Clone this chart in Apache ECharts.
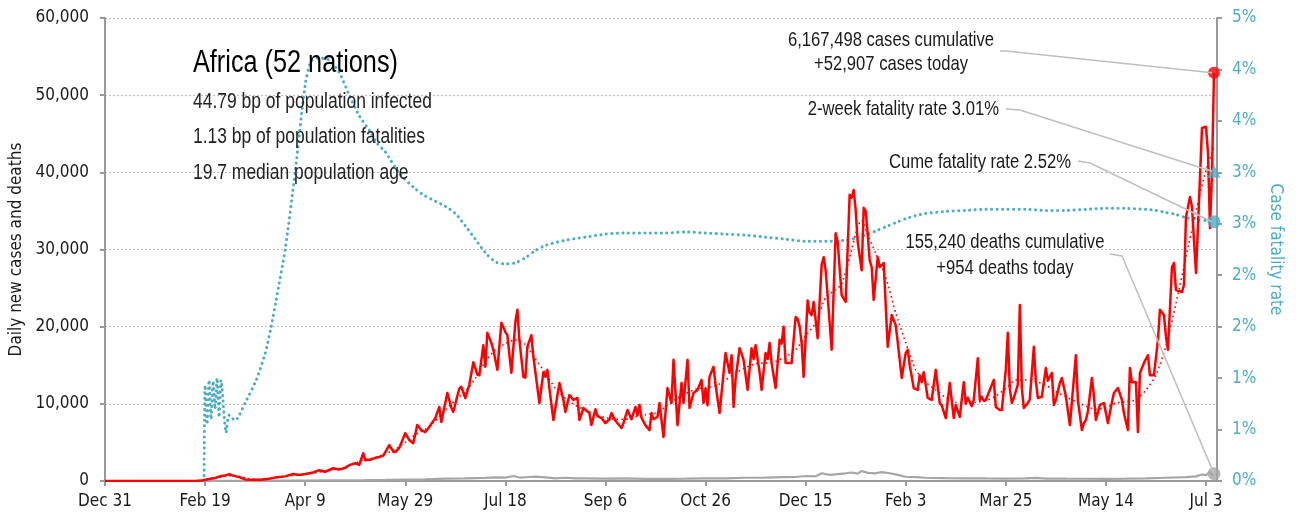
<!DOCTYPE html>
<html>
<head>
<meta charset="utf-8">
<title>Africa (52 nations) – daily new cases and deaths</title>
<script src="https://cdn.jsdelivr.net/npm/echarts@6/dist/echarts.min.js"></script>
<style>
  html, body { margin: 0; padding: 0; background: #ffffff; }
  #chart { width: 1296px; height: 520px; }
</style>
</head>
<body>
<div id="chart"></div>
<script>
// Day offsets are counted from Dec 31, 2019 (day 0).
const dateTicks = ['Dec 31', 'Feb 19', 'Apr 9', 'May 29', 'Jul 18', 'Sep 6', 'Oct 26', 'Dec 15', 'Feb 3', 'Mar 25', 'May 14', 'Jul 3'];
const fatalityTicks = ['0%', '1%', '1%', '2%', '2%', '3%', '3%', '4%', '4%', '5%'];

// Daily new cases: [day, cases]
const newCases = [
  [0, 0], [45, 0], [49, 100], [52, 250], [55, 400], [58, 650], [60, 700], [62, 900], [64, 700], [67, 500],
  [70, 200], [74, 150], [78, 150], [82, 300], [86, 500], [90, 600], [94, 900], [97, 780], [100, 900], [104, 1100],
  [107, 1400], [110, 1200], [114, 1650], [117, 1500], [120, 1700], [122, 2050], [125, 2300], [127, 2100], [129, 3600], [130, 2700],
  [133, 2800], [135, 3000], [137, 3100], [139, 3300], [142, 4650], [144, 3800], [145, 3750], [147, 4300], [150, 6200], [152, 5300],
  [154, 4900], [156, 7250], [158, 6600], [160, 6350], [162, 7000], [165, 8150], [167, 9600], [168, 7650], [171, 11400], [173, 9500],
  [174, 8950], [177, 12000], [178, 12200], [180, 10750], [182, 12500], [184, 15400], [186, 13800], [187, 13700], [189, 17600], [190, 14800],
  [191, 19200], [193, 17900], [194, 17000], [196, 14400], [198, 20500], [200, 19300], [201, 18900], [203, 14000], [205, 20600], [206, 22200],
  [207, 18300], [209, 13500], [210, 13400], [211, 17400], [213, 18900], [214, 16100], [217, 10100], [219, 14100], [220, 13500], [221, 14400],
  [222, 12000], [224, 7900], [227, 12700], [229, 10500], [230, 8950], [232, 11150], [234, 10500], [236, 10760], [237, 7900], [239, 9460],
  [241, 9000], [242, 8800], [243, 7250], [245, 9300], [246, 8400], [248, 8160], [250, 7500], [252, 8000], [253, 8800], [255, 7800],
  [258, 6870], [259, 7500], [261, 9200], [263, 8000], [265, 9600], [266, 8500], [267, 9850], [268, 8200], [270, 7200], [272, 6600],
  [273, 8800], [274, 8000], [276, 8300], [277, 10100], [279, 5700], [281, 12050], [283, 10100], [284, 15700], [286, 7250], [288, 12700],
  [289, 10100], [291, 15700], [292, 9460], [294, 11400], [296, 11800], [297, 12440], [298, 13100], [299, 10100], [300, 12000], [301, 9800],
  [302, 13500], [304, 14800], [305, 12500], [307, 8800], [309, 14000], [310, 16600], [312, 14000], [313, 16300], [314, 9600], [315, 13200],
  [317, 17200], [318, 16500], [319, 15700], [321, 11800], [323, 17200], [324, 15800], [325, 17600], [327, 14100], [328, 11800], [330, 16600],
  [331, 15800], [332, 17900], [333, 15300], [335, 12050], [337, 18300], [338, 17800], [339, 20000], [340, 15300], [343, 15300], [345, 21250],
  [346, 21000], [347, 20000], [348, 17900], [349, 13500], [351, 23400], [352, 21800], [353, 21500], [354, 23200], [356, 18500], [358, 28000],
  [359, 29000], [360, 27300], [361, 24000], [363, 17000], [365, 32100], [366, 31000], [368, 24100], [370, 23200], [372, 37100], [373, 36700],
  [374, 37700], [375, 35100], [376, 31000], [378, 27300], [379, 35400], [380, 35000], [381, 32000], [382, 28600], [383, 27700], [384, 23460],
  [386, 29000], [387, 27700], [389, 28250], [391, 17400], [393, 21500], [395, 20200], [396, 18000], [398, 13350], [400, 16600], [401, 17000],
  [402, 15000], [404, 12050], [406, 11800], [407, 13700], [408, 12800], [409, 14100], [411, 10760], [413, 10500], [415, 14400], [417, 10100],
  [418, 9800], [420, 8160], [422, 12700], [424, 8160], [425, 9850], [427, 8300], [429, 12800], [430, 10000], [431, 10800], [433, 9700],
  [434, 10500], [436, 15900], [437, 10500], [438, 10900], [439, 10400], [440, 10500], [442, 11800], [444, 13100], [445, 9600], [447, 9200],
  [448, 9200], [450, 14400], [451, 19200], [452, 12000], [453, 10100], [454, 10760], [456, 12500], [457, 22800], [458, 12000], [459, 9460],
  [461, 10100], [462, 10600], [464, 17400], [465, 13000], [466, 10760], [468, 10900], [470, 14650], [471, 13000], [473, 14000], [474, 9850],
  [475, 10500], [477, 12700], [478, 13350], [480, 11000], [482, 7250], [483, 10200], [485, 16300], [486, 10500], [488, 6600], [489, 7500],
  [490, 7900], [491, 9000], [493, 13350], [494, 11000], [495, 7900], [497, 9850], [499, 10100], [501, 7500], [503, 10200], [504, 11400],
  [506, 12050], [508, 10500], [509, 8800], [511, 6600], [512, 14650], [513, 12800], [515, 12800], [516, 6350], [517, 14000], [519, 15300],
  [521, 16300], [522, 13700], [524, 13700], [526, 18300], [527, 22200], [529, 21500], [530, 18700], [531, 17000], [533, 27700], [534, 28250],
  [535, 24750], [538, 24500], [539, 25400], [540, 34200], [542, 36800], [543, 35500], [545, 26950], [546, 33000], [548, 45750], [550, 45900],
  [551, 42500], [552, 32800], [553, 40000], [554, 52907]
];

// 7-day average of new cases: [day, cases]
const casesAvg = [
  [0, 0], [48, 0], [52, 200], [56, 400], [60, 600], [64, 700], [68, 550], [72, 300], [76, 200], [80, 250],
  [85, 400], [90, 600], [95, 750], [100, 850], [105, 1050], [110, 1300], [115, 1500], [120, 1800], [125, 2300], [130, 2800],
  [135, 3000], [140, 3500], [145, 4100], [150, 5000], [155, 6000], [160, 6700], [165, 7800], [170, 9200], [175, 10500], [180, 11600],
  [185, 13300], [190, 15500], [195, 17000], [200, 17800], [205, 18300], [210, 17700], [215, 15800], [220, 14000], [225, 12000], [230, 10700],
  [235, 9800], [240, 9200], [245, 8600], [250, 8200], [255, 8000], [260, 8000], [265, 8300], [270, 8600], [275, 8800], [280, 9600],
  [285, 10600], [290, 11300], [295, 11900], [300, 12100], [305, 12300], [310, 13100], [315, 14000], [320, 14700], [325, 15200], [330, 15300],
  [335, 15500], [340, 16100], [345, 17000], [350, 18800], [355, 20500], [360, 23800], [365, 24800], [368, 25500], [372, 29000], [376, 33000],
  [378, 33800], [380, 32500], [385, 29500], [390, 26400], [395, 21800], [400, 17900], [405, 14400], [410, 12800], [415, 11800], [420, 10800],
  [425, 10200], [430, 10100], [435, 10200], [440, 10400], [445, 11000], [450, 12000], [455, 13100], [460, 13100], [465, 12900], [470, 12400],
  [475, 11600], [480, 10900], [485, 10300], [490, 9700], [495, 9300], [500, 9500], [505, 10100], [510, 10300], [515, 10500], [520, 11800],
  [525, 13700], [530, 17500], [535, 23000], [540, 29000], [545, 35000], [550, 40300], [554, 43300]
];

// Daily deaths: [day, deaths]
const newDeaths = [
  [0, 0], [49, 0], [55, 10], [70, 20], [80, 30], [90, 50], [100, 60], [110, 80], [120, 100], [130, 110],
  [140, 140], [150, 180], [160, 220], [170, 300], [180, 330], [190, 400], [195, 480], [200, 430], [204, 650], [207, 450],
  [212, 520], [215, 560], [220, 480], [225, 350], [230, 420], [235, 330], [240, 350], [250, 300], [260, 330], [270, 280],
  [280, 280], [290, 300], [300, 330], [310, 350], [320, 420], [330, 450], [338, 500], [345, 520], [350, 650], [355, 600],
  [358, 1000], [362, 800], [366, 900], [370, 1000], [373, 1100], [376, 950], [378, 1300], [381, 1050], [385, 1000], [388, 1150],
  [392, 1000], [396, 800], [400, 550], [405, 500], [410, 420], [420, 380], [430, 350], [440, 330], [450, 320], [460, 330],
  [465, 400], [470, 320], [480, 300], [490, 290], [500, 280], [510, 300], [520, 330], [530, 420], [540, 500], [545, 600],
  [548, 850], [550, 750], [552, 1200], [553, 700], [554, 954]
];

// Cumulative case fatality rate, percent: [day, rate]
const fatalityCume = [
  [49.5, 0], [50, 0.93], [51, 0.55], [52, 0.98], [53, 0.6], [54, 0.97], [55, 0.7], [56, 1.0], [57, 0.62], [58, 0.98],
  [60.5, 0.47], [62, 0.64], [65, 0.59], [70, 0.76], [75.5, 0.98], [80, 1.24], [83, 1.5], [85.5, 1.76], [90, 2.25], [95, 3.0],
  [100, 3.85], [103, 4.08], [107, 4.11], [112, 4.09], [117, 3.97], [122, 3.75], [127, 3.55], [132, 3.41], [136, 3.28], [140, 3.2],
  [147, 2.99], [155, 2.84], [160, 2.77], [165, 2.72], [170, 2.67], [175, 2.6], [180, 2.48], [185, 2.35], [190, 2.22],
  [195, 2.13], [200, 2.11], [205, 2.12], [210, 2.17], [215, 2.24], [220, 2.29], [230, 2.34], [240, 2.37], [250, 2.40], [260, 2.41],
  [270, 2.41], [280, 2.41], [290, 2.42], [300, 2.41], [310, 2.40], [320, 2.39], [330, 2.37], [340, 2.35], [350, 2.33], [360, 2.33],
  [370, 2.34], [375, 2.36], [380, 2.39], [385, 2.43], [390, 2.47], [395, 2.51], [400, 2.55], [405, 2.58], [410, 2.60], [420, 2.62],
  [430, 2.63], [440, 2.64], [450, 2.64], [460, 2.64], [470, 2.63], [480, 2.63], [490, 2.64], [500, 2.65], [510, 2.65], [520, 2.64],
  [525, 2.63], [530, 2.61], [535, 2.59], [540, 2.56], [545, 2.54], [550, 2.53], [554, 2.52]
];

// Latest figures shown in the callouts
const lastDay = 554;
const casesCumulative = 6167498;
const casesToday = 52907;
const deathsCumulative = 155240;
const deathsToday = 954;
const fatality2Week = 3.01;
const fatalityCumeLatest = 2.52;

const regionTitle = 'Africa (52 nations)';
const regionFacts = [
  '44.79 bp of population infected',
  '1.13 bp of population fatalities',
  '19.7 median population age'
];

// Axis text uses a condensed face; free text uses Liberation Sans squeezed horizontally.
const AXIS_FONT = "'DejaVu Sans Condensed', 'Liberation Sans', sans-serif";
const TEXT_FONT = "'Liberation Sans', Arial, sans-serif";
const NARROW = 0.82;
const RED = '#ff0000';
const TEAL = '#4bacc6';
const GREY = '#a6a6a6';
const AXIS = '#999999';
const INK = '#1a1a1a';
const fmt = n => n.toLocaleString('en-US');

const chart = echarts.init(document.getElementById('chart'), null, { renderer: 'canvas' });

const option = {
  animation: false,
  backgroundColor: '#ffffff',
  textStyle: { fontFamily: AXIS_FONT },
  grid: { left: 105, right: 79, top: 18, bottom: 39, outerBoundsMode: 'none', containLabel: false },
  xAxis: {
    type: 'value',
    min: 0,
    max: 555.5,
    interval: 50,
    axisLine: { show: true, lineStyle: { color: AXIS, width: 2 } },
    axisTick: { show: true, length: 5, lineStyle: { color: AXIS, width: 2 } },
    splitLine: { show: false },
    axisLabel: {
      color: INK, fontSize: 17, fontFamily: AXIS_FONT, margin: 12,
      showMaxLabel: false,
      formatter: v => (v % 50 === 0 ? (dateTicks[v / 50] || '') : '')
    }
  },
  yAxis: [
    {
      type: 'value', min: 0, max: 60000, interval: 10000, position: 'left',
      name: 'Daily new cases and deaths', nameLocation: 'middle', nameGap: 80, nameRotate: 90,
      nameTextStyle: { color: INK, fontSize: 17, fontFamily: AXIS_FONT },
      axisLine: { show: true, lineStyle: { color: AXIS, width: 2 } },
      axisTick: { show: true, length: 5, lineStyle: { color: AXIS, width: 2 } },
      splitLine: { show: true, lineStyle: { color: '#bdbdbd', width: 1.2, type: [2, 2] } },
      axisLabel: { color: INK, fontSize: 17, fontFamily: AXIS_FONT, margin: 16, formatter: v => fmt(v) }
    },
    {
      type: 'value', min: 0, max: 4.5, interval: 0.5, position: 'right',
      name: 'Case fatality rate', nameLocation: 'middle', nameGap: 44, nameRotate: -90,
      nameTextStyle: { color: TEAL, fontSize: 17, fontFamily: AXIS_FONT },
      axisLine: { show: true, lineStyle: { color: AXIS, width: 2 } },
      axisTick: { show: true, length: 5, lineStyle: { color: AXIS, width: 2 } },
      splitLine: { show: false },
      axisLabel: {
        color: TEAL, fontSize: 17, fontFamily: AXIS_FONT, margin: 15,
        formatter: v => fatalityTicks[Math.round(v / 0.5)]
      }
    }
  ],
  series: [
    {
      name: 'Deaths', type: 'line', yAxisIndex: 0, data: newDeaths, showSymbol: false,
      lineStyle: { color: GREY, width: 2.2 }, z: 2
    },
    {
      name: 'Cume fatality rate', type: 'line', yAxisIndex: 1, data: fatalityCume, showSymbol: false,
      smooth: 0.25,
      lineStyle: { color: TEAL, width: 3, type: [0.1, 5.4], cap: 'round' }, z: 3
    },
    {
      name: 'Cases', type: 'line', yAxisIndex: 0, data: newCases, showSymbol: false,
      lineStyle: { color: RED, width: 2.5, join: 'round' }, z: 4
    },
    {
      name: 'Cases 7-day average', type: 'line', yAxisIndex: 0, data: casesAvg, showSymbol: false,
      smooth: 0.2,
      lineStyle: { color: RED, width: 1.6, type: [1.6, 3.2] }, z: 5
    },
    {
      name: 'Latest', type: 'scatter', yAxisIndex: 0, z: 8,
      data: [
        { value: [lastDay, casesToday], symbol: 'circle', symbolSize: 12, itemStyle: { color: RED } },
        { value: [lastDay, deathsToday], symbol: 'circle', symbolSize: 13, itemStyle: { color: GREY } }
      ]
    },
    {
      name: 'Latest rates', type: 'scatter', yAxisIndex: 1, z: 8,
      data: [
        { value: [lastDay, fatality2Week], symbol: 'triangle', symbolSize: 13, itemStyle: { color: TEAL } },
        { value: [lastDay, fatalityCumeLatest], symbol: 'circle', symbolSize: 13, itemStyle: { color: TEAL } }
      ]
    }
  ]
};

chart.setOption(option);

// Callouts with leader lines ending on the latest-value markers
const px = (yAxisIndex, value) => chart.convertToPixel({ xAxisIndex: 0, yAxisIndex }, [lastDay, value]);
const pCases = px(0, casesToday);
const pDeaths = px(0, deathsToday);
const p2wk = px(1, fatality2Week);
const pCume = px(1, fatalityCumeLatest);

const txt = (x, y, text, size, align, color) => ({
  type: 'text', x, y, z: 20, scaleX: NARROW,
  style: { text, fill: color || INK, font: size + 'px ' + TEXT_FONT, align: align || 'left', verticalAlign: 'middle' }
});
const leader = pts => ({
  type: 'polyline', z: 15, silent: true,
  shape: { points: pts },
  style: { stroke: '#bfbfbf', lineWidth: 1.5, fill: null }
});

const graphics = [
  txt(193, 64, regionTitle, 30.8, 'left', '#000'),
  txt(193, 102, regionFacts[0], 21.3, 'left', '#222'),
  txt(193, 137, regionFacts[1], 21.3, 'left', '#222'),
  txt(193, 173, regionFacts[2], 21.3, 'left', '#222'),

  txt(891, 40, fmt(casesCumulative) + ' cases cumulative', 20.3, 'center'),
  txt(891, 64, '+' + fmt(casesToday) + ' cases today', 20.3, 'center'),
  leader([[1000, 51], [1006, 51], [pCases[0] - 2, pCases[1]]]),

  txt(999, 109, '2-week fatality rate ' + fatality2Week.toFixed(2) + '%', 20.3, 'right'),
  leader([[1006, 109], [1020, 110], [p2wk[0] - 2, p2wk[1]]]),

  txt(1071, 162, 'Cume fatality rate ' + fatalityCumeLatest.toFixed(2) + '%', 20.3, 'right'),
  leader([[1078, 161], [1090, 163], [pCume[0] - 2, pCume[1]]]),

  txt(1005, 242, fmt(deathsCumulative) + ' deaths cumulative', 20.3, 'center'),
  txt(1005, 268, '+' + fmt(deathsToday) + ' deaths today', 20.3, 'center'),
  leader([[1110, 254], [1122, 256], [pDeaths[0], pDeaths[1]]])
];

chart.setOption({ graphic: graphics });
</script>
</body>
</html>
